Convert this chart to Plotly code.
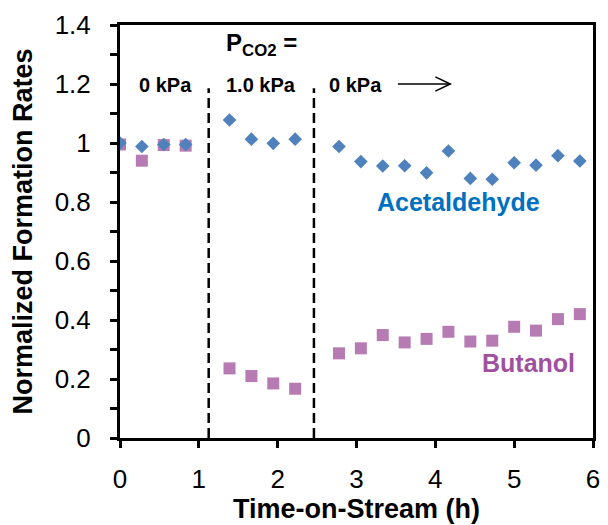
import plotly.graph_objects as go

# ---- data ----
time_h = [0.0, 0.277, 0.555, 0.833,
          1.389, 1.667, 1.944, 2.222,
          2.778, 3.055, 3.333, 3.611, 3.889, 4.166, 4.444, 4.722, 5.0, 5.277, 5.555, 5.833]
acetaldehyde = [1.0, 0.988, 0.995, 0.995,
                1.078, 1.013, 0.999, 1.013,
                0.988, 0.937, 0.922, 0.923, 0.899, 0.973, 0.880, 0.877, 0.933, 0.925, 0.957, 0.939]
butanol = [0.995, 0.940, 0.993, 0.991,
           0.236, 0.210, 0.185, 0.167,
           0.287, 0.304, 0.349, 0.324, 0.336, 0.360, 0.327, 0.330, 0.377, 0.364, 0.403, 0.420]
switch_times = [1.125, 2.46]
x_ticks = [0, 1, 2, 3, 4, 5, 6]
y_ticks = [0, 0.2, 0.4, 0.6, 0.8, 1.0, 1.2, 1.4]

FONT = "Liberation Sans, Arial, sans-serif"
BLUE = "#4F81BD"
PURPLE = "#B77BB4"

fig = go.Figure()
fig.add_trace(go.Scatter(x=time_h, y=butanol, mode="markers", name="Butanol",
                         marker=dict(symbol="square", size=12, color=PURPLE)))
fig.add_trace(go.Scatter(x=time_h, y=acetaldehyde, mode="markers", name="Acetaldehyde",
                         marker=dict(symbol="diamond", size=10.5, color=BLUE)))

# dashed vertical lines
for t in switch_times:
    fig.add_shape(type="line", xref="x", yref="y", x0=t, x1=t, y0=0, y1=1.186,
                  line=dict(color="black", width=2.5, dash="10px,5px"))

# arrow
fig.add_shape(type="line", xref="x", yref="y", x0=3.525, x1=4.19, y0=1.2, y1=1.2,
              line=dict(color="black", width=1.5))
fig.add_shape(type="path", xref="x", yref="y",
              path="M 4.0,1.224 L 4.19,1.2 L 4.0,1.176",
              line=dict(color="black", width=1.5))

ann = []
ann.append(dict(x=4.29, y=0.80, text="<b>Acetaldehyde</b>", showarrow=False,
                font=dict(family=FONT, size=25, color="#0070C0")))
ann.append(dict(x=5.18, y=0.255, text="<b>Butanol</b>", showarrow=False,
                font=dict(family=FONT, size=25, color="#A0509F")))
for xx, txt in [(0.58, "0 kPa"), (1.79, "1.0 kPa"), (2.99, "0 kPa")]:
    ann.append(dict(x=xx, y=1.197, text="<b>" + txt + "</b>", showarrow=False,
                    font=dict(family=FONT, size=20, color="black")))
ann.append(dict(x=1.79, y=1.335, text="<b>P<sub>CO2</sub> =</b>", showarrow=False,
                font=dict(family=FONT, size=24, color="black")))
# axis titles
ann.append(dict(xref="paper", yref="paper", x=0.5, y=0, yshift=-71,
                xanchor="center", yanchor="middle",
                text="<b>Time-on-Stream (h)</b>", showarrow=False,
                font=dict(family=FONT, size=27, color="black")))
ann.append(dict(xref="paper", yref="paper", x=0, y=0.5, xshift=-98, textangle=-90,
                xanchor="center", yanchor="middle",
                text="<b>Normalized Formation Rates</b>", showarrow=False,
                font=dict(family=FONT, size=27, color="black")))

axis_common = dict(showline=True, linecolor="black", linewidth=3, mirror=True,
                   showgrid=False, zeroline=False, ticks="outside", ticklen=7,
                   tickwidth=2.5, tickcolor="black",
                   tickfont=dict(family=FONT, size=26, color="black"))

fig.update_layout(
    width=608, height=525,
    margin=dict(l=120, r=8, t=25, b=87),
    paper_bgcolor="white", plot_bgcolor="white",
    showlegend=False,
    annotations=ann,
    xaxis=dict(range=[0, 6], tickvals=x_ticks, ticklabelstandoff=9, **axis_common),
    yaxis=dict(range=[0, 1.4], tickvals=y_ticks, ticktext=[f"{v:g}" for v in y_ticks],
               ticklabelstandoff=14,
               minor=dict(dtick=0.1, tick0=0, ticks="outside", ticklen=7, tickwidth=2.5,
                          tickcolor="black"),
               **axis_common),
)

fig.write_html("out.html")
